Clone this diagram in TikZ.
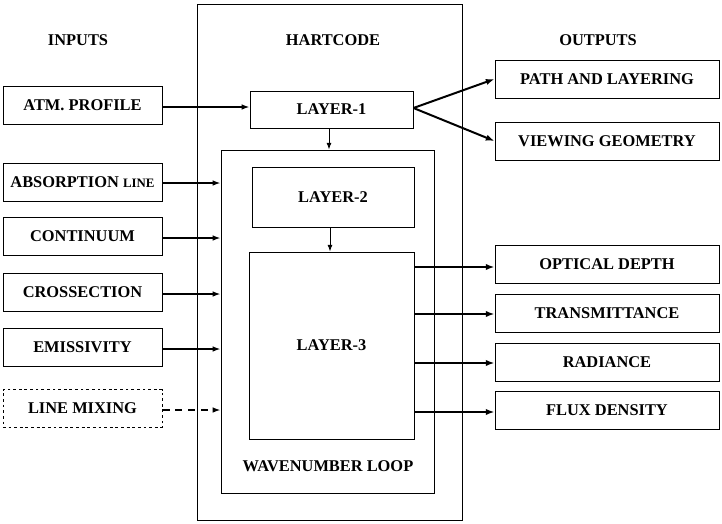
\documentclass[tikz,border=0pt]{standalone}
\usepackage{fontspec}
\setmainfont{Liberation Serif}
\usetikzlibrary{arrows.meta}

\tikzset{
  blk/.style={draw, line width=0.8pt, inner sep=0pt, font=\fontsize{14}{16}\selectfont\bfseries},
  inbox/.style={blk, minimum width=4.77cm, minimum height=1.14cm},
  outbox/.style={blk, minimum width=6.72cm, minimum height=1.14cm},
  head/.style={font=\fontsize{14}{16}\selectfont\bfseries},
  feed/.style={line width=1.2pt, -{Latex[length=2.4mm,width=1.7mm]}},
  yield/.style={line width=1.7pt, -{Latex[length=2.6mm,width=1.9mm]}}
}

\begin{document}
\begin{tikzpicture}[x=0.03cm, y=-0.03cm]
    \useasboundingbox (0,0) rectangle (722,523);

    % headings
    \node[head] (hin) at (78, 40) {INPUTS};
    \node[head] (hcode) at (333, 40) {HARTCODE};
    \node[head] (hout) at (598, 40) {OUTPUTS};

    % HARTCODE frame and wavenumber loop
    \node[blk, minimum width=7.95cm, minimum height=15.48cm] (hart) at (329.5, 262) {};
    \node[blk, minimum width=6.39cm, minimum height=10.29cm] (loop) at (327.5, 321.5) {};
    \node[head] (wlabel) at (328, 466) {WAVENUMBER LOOP};

    % layers
    \node[blk, minimum width=4.89cm, minimum height=1.11cm] (l1) at (331.5, 109.5) {LAYER-1};
    \node[blk, minimum width=4.86cm, minimum height=1.8cm] (l2) at (333, 197) {LAYER-2};
    \node[blk, minimum width=4.95cm, minimum height=5.61cm] (l3) at (331.5, 345.5) {LAYER-3};

    % inputs
    \node[inbox] (atm) at (82.5, 105.5) {ATM. PROFILE};
    \node[inbox] (absl) at (82.5, 182) {ABSORPTION {\fontsize{11}{13}\selectfont LINE}};
    \node[inbox] (cont) at (82.5, 236) {CONTINUUM};
    \node[inbox] (cross) at (82.5, 292) {CROSSECTION};
    \node[inbox] (emis) at (82.5, 347) {EMISSIVITY};
    \node[inbox, dash pattern=on 2.4pt off 2.4pt] (mix) at (82.5, 408.5) {LINE MIXING};

    % outputs
    \node[outbox] (path) at (607, 79) {PATH AND LAYERING};
    \node[outbox] (view) at (607, 141) {VIEWING GEOMETRY};
    \node[outbox] (tau) at (607, 264) {OPTICAL DEPTH};
    \node[outbox] (trans) at (607, 313) {TRANSMITTANCE};
    \node[outbox] (rad) at (607, 362) {RADIANCE};
    \node[outbox] (flux) at (607, 410) {FLUX DENSITY};

    % input arrows
    \draw[feed] (atm.east |- 0,107) -- (l1.west |- 0,107);
    \draw[feed] (absl.east |- 0,183) -- (loop.west |- 0,183);
    \draw[feed] (cont.east |- 0,238) -- (loop.west |- 0,238);
    \draw[feed] (cross.east |- 0,294) -- (loop.west |- 0,294);
    \draw[feed] (emis.east |- 0,349) -- (loop.west |- 0,349);
    \draw[feed, dash pattern=on 6pt off 5pt] (mix.east |- 0,410) -- (loop.west |- 0,410);

    % internal flow
    \draw[line width=0.8pt, -{Latex[length=2mm,width=1.5mm]}] (l1.south -| 329,0) -- (loop.north -| 329,0);
    \draw[line width=0.8pt, -{Latex[length=2mm,width=1.5mm]}] (l2.south -| 330,0) -- (l3.north -| 330,0);

    % output arrows
    \coordinate (fan) at (l1.east |- 0,108);
    \draw[yield] (fan) -- (path.west);
    \draw[yield] (fan) -- (view.west);
    \draw[yield] (l3.east |- 0,267) -- (tau.west |- 0,267);
    \draw[yield] (l3.east |- 0,314) -- (trans.west |- 0,314);
    \draw[yield] (l3.east |- 0,363) -- (rad.west |- 0,363);
    \draw[yield] (l3.east |- 0,412) -- (flux.west |- 0,412);
\end{tikzpicture}
\end{document}
